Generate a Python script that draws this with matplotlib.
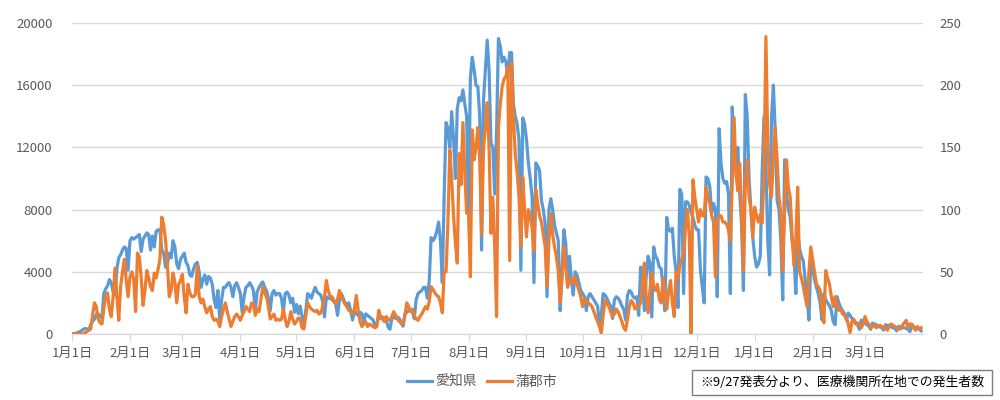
import numpy as np
import pandas as pd
import matplotlib
matplotlib.use('Agg')
import matplotlib.pyplot as plt
from matplotlib.patches import Rectangle

plt.rcParams['font.family'] = ['Noto Sans CJK JP', 'DejaVu Sans']

# daily new cases, Aichi prefecture (left axis), 2022-01-01 .. 2023-03-31
aichi_2022_01 = [20, 30, 40, 90, 140, 200, 300, 350, 330, 250, 600, 800, 950, 1250, 1300, 1150, 1000, 2600, 2900, 3100, 3500,
                 3300, 2700, 2500, 4200, 4900, 5100, 5400, 5600, 5500, 4100]
aichi_2022_02 = [6000, 6200, 6100, 6200, 6300, 6400, 5300, 6100, 6300, 6500, 6400, 5400, 6300, 5600, 6600, 6700, 6700, 5400,
                 5200, 4300, 4500, 5200, 4900, 6000, 5600, 4500, 4200, 4800]
aichi_2022_03 = [5000, 5200, 4600, 4400, 3800, 3700, 4200, 4500, 4600, 4000, 3000, 3500, 3800, 3200, 3700, 3600, 3200, 2200,
                 1700, 2800, 900, 2200, 3000, 3000, 3200, 3300, 3000, 2400, 3100, 3300, 3000]
aichi_2022_04 = [2600, 1400, 2400, 3000, 3100, 3300, 3100, 2800, 1500, 2700, 3000, 3200, 3350, 3000, 2800, 2300, 1500, 2600,
                 2800, 2500, 2600, 2600, 2300, 1400, 2600, 2700, 2500, 2000, 2300, 1400]
aichi_2022_05 = [1900, 1300, 1800, 1100, 600, 1500, 2600, 2500, 2300, 2700, 3000, 2700, 2600, 2500, 2100, 1100, 2400, 2300,
                 2300, 2200, 2100, 1900, 1200, 2200, 2600, 2300, 2000, 1900, 2000, 1500, 900]
aichi_2022_06 = [1500, 1300, 1200, 1400, 1300, 700, 1300, 1200, 1100, 1000, 900, 500, 700, 1100, 1000, 1100, 1000, 900, 450,
                 300, 1000, 1100, 1000, 1100, 1000, 700, 500, 1300, 1400, 1500]
aichi_2022_07 = [1500, 1400, 1000, 2200, 2600, 2700, 2800, 3000, 3000, 2300, 3400, 6200, 6000, 6200, 6600, 7200, 6000, 3300,
                 9000, 13600, 13200, 12000, 14300, 12500, 10000, 14500, 15200, 15000, 15700, 14800, 14000]
aichi_2022_08 = [7800, 16500, 17800, 17000, 16000, 15900, 14000, 5400, 15000, 17000, 18900, 17000, 12300, 12000, 9000, 13000,
                 19000, 18500, 17500, 17800, 17500, 16500, 18100, 18100, 14800, 14000, 13500, 12500, 4100, 13900, 13500]
aichi_2022_09 = [12500, 11000, 10000, 8800, 3300, 11000, 10800, 10500, 8600, 8000, 7100, 2400, 8000, 8700, 8000, 7000, 6500,
                 6000, 1500, 4000, 6700, 5800, 3000, 5000, 3500, 2500, 4000, 3800, 3300, 2800]
aichi_2022_10 = [2600, 2400, 1500, 2400, 2600, 2400, 2200, 2000, 1800, 700, 1200, 2600, 2500, 2300, 2000, 1800, 1000, 2200,
                 2400, 2300, 2100, 1800, 1600, 900, 2500, 2800, 2700, 2400, 2300, 2400, 1200]
aichi_2022_11 = [4300, 4000, 1500, 3700, 5000, 4600, 1100, 5600, 5000, 4800, 4300, 4200, 3000, 1500, 7500, 6700, 6600, 6800,
                 5000, 4000, 1700, 9300, 9000, 2600, 8500, 8500, 8300, 7800, 7500, 7000]
aichi_2022_12 = [6700, 6700, 4100, 3000, 2000, 10100, 10000, 9500, 7800, 8400, 8000, 2400, 13200, 11000, 10000, 9700, 9800,
                 9000, 2600, 14600, 12000, 11000, 12000, 9000, 7000, 2800, 15400, 14000, 10000, 8000, 6200]
aichi_2023_01 = [5000, 4300, 4500, 5000, 10400, 14000, 11000, 6000, 3800, 14000, 16000, 13000, 8600, 8000, 6000, 2200, 11200,
                 9000, 8000, 7500, 6000, 5200, 2600, 6500, 5500, 5000, 4700, 3500, 2500, 900, 4700]
aichi_2023_02 = [4200, 3500, 3000, 2600, 2000, 900, 2600, 2200, 2000, 1800, 1500, 800, 600, 2400, 2000, 1700, 1500, 1300, 900,
                 1350, 1200, 1000, 800, 700, 600, 300, 900, 800]
aichi_2023_03 = [700, 600, 500, 300, 700, 650, 600, 500, 450, 400, 250, 600, 550, 500, 450, 400, 350, 200, 500, 450, 400, 400,
                 350, 300, 150, 450, 450, 400, 350, 300, 200]

# daily new cases, Gamagori city (right axis)
gama_2022_01 = [0, 0, 0, 0, 0, 0, 0, 1, 2, 3, 4, 15, 25, 22, 12, 9, 8, 20, 30, 33, 20, 14, 30, 53, 30, 11, 38, 50, 60, 43, 30]
gama_2022_02 = [46, 50, 44, 18, 65, 62, 45, 23, 35, 51, 45, 38, 35, 49, 45, 52, 60, 94, 88, 76, 55, 30, 35, 49, 42, 25, 40, 43]
gama_2022_03 = [48, 30, 17, 40, 33, 30, 30, 32, 55, 30, 25, 28, 22, 17, 20, 22, 14, 11, 12, 10, 6, 14, 20, 25, 18, 12, 6, 10,
                14, 16, 14]
gama_2022_04 = [11, 15, 18, 22, 20, 18, 25, 24, 15, 20, 18, 28, 38, 33, 30, 22, 12, 14, 16, 11, 12, 11, 12, 20, 12, 6, 10, 18,
                12, 8]
gama_2022_05 = [10, 13, 12, 5, 4, 15, 25, 22, 20, 19, 18, 19, 16, 17, 22, 30, 43, 35, 30, 30, 27, 24, 28, 35, 30, 27, 24, 22,
                19, 18, 16]
gama_2022_06 = [20, 31, 19, 10, 6, 8, 10, 6, 8, 7, 6, 5, 6, 19, 14, 12, 10, 14, 12, 11, 14, 18, 15, 12, 10, 9, 8, 15, 25, 22]
gama_2022_07 = [18, 20, 15, 12, 11, 14, 16, 19, 22, 20, 26, 38, 36, 33, 31, 30, 25, 17, 51, 50, 90, 148, 125, 95, 73, 57, 145,
                120, 170, 130, 97]
gama_2022_08 = [97, 46, 164, 140, 150, 166, 140, 80, 150, 165, 186, 150, 81, 110, 70, 14, 166, 185, 199, 205, 207, 215, 59,
                218, 175, 145, 130, 110, 70, 126, 100]
gama_2022_09 = [78, 100, 95, 85, 67, 116, 105, 95, 90, 80, 70, 38, 75, 97, 80, 70, 62, 50, 25, 45, 70, 55, 38, 42, 45, 41, 46,
                40, 35, 30]
gama_2022_10 = [22, 28, 27, 25, 24, 22, 18, 14, 10, 6, 1, 15, 27, 25, 22, 18, 14, 16, 20, 18, 14, 10, 5, 3, 12, 22, 27, 25,
                20, 22, 22]
gama_2022_11 = [25, 40, 57, 30, 17, 35, 49, 38, 35, 40, 28, 25, 45, 30, 20, 35, 43, 25, 14, 50, 45, 55, 60, 65, 85, 100, 80,
                0, 124, 110]
gama_2022_12 = [100, 90, 100, 95, 95, 118, 110, 105, 95, 90, 46, 92, 95, 95, 90, 90, 88, 84, 75, 120, 174, 129, 115, 137, 100,
                51, 120, 140, 110, 100, 78]
gama_2023_01 = [102, 95, 90, 96, 89, 130, 239, 156, 120, 110, 140, 166, 140, 110, 97, 51, 100, 140, 118, 110, 80, 55, 75, 118,
                50, 45, 38, 30, 22, 50, 70]
gama_2023_02 = [60, 50, 40, 38, 35, 20, 9, 51, 45, 40, 30, 22, 30, 25, 19, 20, 16, 15, 14, 8, 1, 10, 12, 8, 9, 7, 5, 8]
gama_2023_03 = [14, 10, 8, 5, 6, 7, 5, 6, 7, 6, 5, 5, 3, 7, 8, 7, 6, 5, 4, 4, 7, 9, 11, 5, 8, 8, 6, 3, 6, 4, 5]

aichi = (aichi_2022_01 + aichi_2022_02 + aichi_2022_03 + aichi_2022_04 + aichi_2022_05 + aichi_2022_06 + aichi_2022_07
         + aichi_2022_08 + aichi_2022_09 + aichi_2022_10 + aichi_2022_11 + aichi_2022_12 + aichi_2023_01 + aichi_2023_02
         + aichi_2023_03)
gama = (gama_2022_01 + gama_2022_02 + gama_2022_03 + gama_2022_04 + gama_2022_05 + gama_2022_06 + gama_2022_07
        + gama_2022_08 + gama_2022_09 + gama_2022_10 + gama_2022_11 + gama_2022_12 + gama_2023_01 + gama_2023_02
        + gama_2023_03)

dates = pd.date_range('2022-01-01', '2023-03-31', freq='D')
month_starts = pd.date_range('2022-01-01', '2023-03-01', freq='MS')
month_labels = [f'{d.month}月1日' for d in month_starts]

blue = '#5B9BD5'
orange = '#ED7D31'
grid = '#D9D9D9'
txt = '#595959'

fig = plt.figure(figsize=(10, 4), dpi=100)
ax = fig.add_axes([0.072, 0.165, 0.851, 0.7775])
ax2 = ax.twinx()

l1, = ax.plot(dates, aichi, color=blue, lw=2.3, label='愛知県')
l2, = ax2.plot(dates, gama, color=orange, lw=2.3, label='蒲郡市')

ax.set_ylim(0, 20000)
ax.set_yticks(range(0, 20001, 4000))
ax2.set_ylim(0, 250)
ax2.set_yticks(range(0, 251, 50))
ax.set_xlim(dates[0], dates[-1] + pd.Timedelta(days=1))
ax.set_xticks(month_starts)
ax.set_xticklabels(month_labels)

ax.grid(axis='y', color=grid, lw=1)
ax.set_axisbelow(True)
for a in (ax, ax2):
    for s in ('top', 'left', 'right'):
        a.spines[s].set_visible(False)
    a.spines['bottom'].set_color(grid)
ax.tick_params(axis='y', length=0, labelsize=9.5, labelcolor=txt, pad=14)
ax2.tick_params(axis='y', length=0, labelsize=9.5, labelcolor=txt, pad=12)
ax.tick_params(axis='x', length=5, color=grid, labelsize=9.5, labelcolor=txt, pad=4)

fig.legend([l1, l2], ['愛知県', '蒲郡市'], loc='center', bbox_to_anchor=(0.482, 0.045), ncol=2,
           frameon=False, fontsize=10, handlelength=1.8, columnspacing=0.7, handletextpad=0.25,
           labelcolor=txt)

fig.patches.append(Rectangle((0.692, 0.0125), 0.3, 0.0625, transform=fig.transFigure,
                             facecolor='white', edgecolor='#7F7F7F', lw=1))
fig.text(0.842, 0.044, '※9/27発表分より、医療機関所在地での発生者数', ha='center', va='center',
         fontsize=9.3, color='black')

fig.savefig('out.png', dpi=100)
